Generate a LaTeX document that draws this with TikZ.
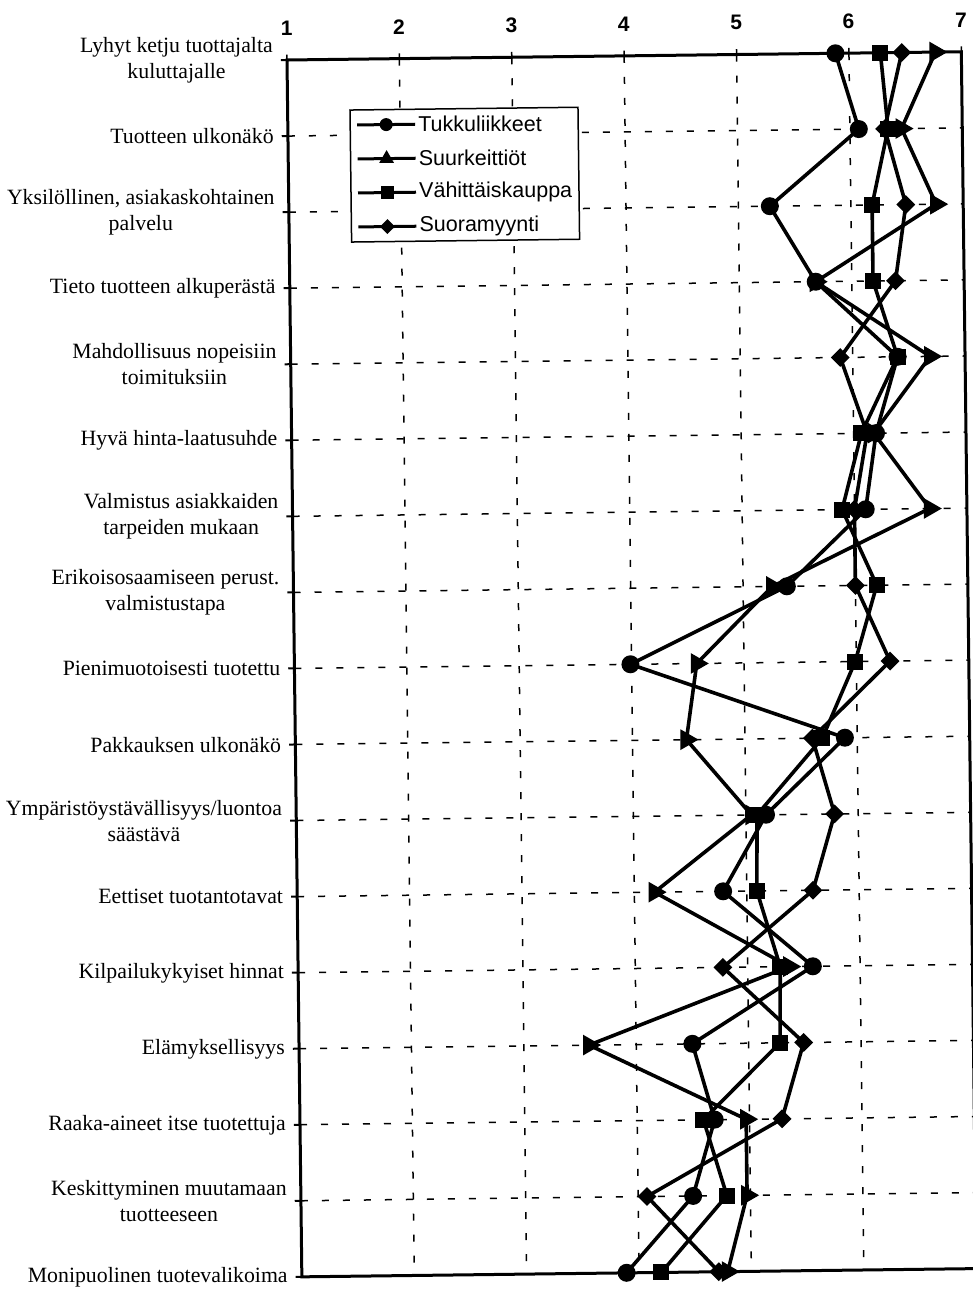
\documentclass[tikz,border=0pt]{standalone}
\usepackage{fontspec}
\setmainfont{Liberation Serif}
\setsansfont{Liberation Sans}
\usetikzlibrary{shapes.geometric}

\begin{document}
\begin{tikzpicture}[x=1pt,y=-1pt,
    cat/.style={anchor=east,align=center,inner sep=0pt,font=\fontsize{21.8}{26}\selectfont},
    num/.style={inner sep=0pt,font=\sffamily\bfseries\fontsize{21}{25}\selectfont},
    leg/.style={anchor=west,inner sep=0pt,font=\sffamily\fontsize{21.5}{25}\selectfont},
    gridline/.style={line width=1.5pt,dash pattern=on 7pt off 14pt},
    ser/.style={line width=3.6pt,line join=round},
    mcirc/.style={circle,fill=black,inner sep=0pt,minimum size=18pt},
    msq/.style={rectangle,fill=black,inner sep=0pt,minimum size=16pt},
    mdia/.style={diamond,fill=black,inner sep=0pt,minimum width=19pt,minimum height=19pt},
    mtri/.style={regular polygon,regular polygon sides=3,shape border rotate=-90,fill=black,inner sep=0pt,minimum size=24pt},
    lcirc/.style={circle,fill=black,inner sep=0pt,minimum size=13pt},
    lsq/.style={rectangle,fill=black,inner sep=0pt,minimum size=13pt},
    ldia/.style={diamond,fill=black,inner sep=0pt,minimum width=15pt,minimum height=15pt},
    ltri/.style={regular polygon,regular polygon sides=3,fill=black,inner sep=0pt,minimum size=17pt}]
    \useasboundingbox[fill=white] (0,0) rectangle (972,1290);

    % the scanned chart sits a little tilted on the page
    \begin{scope}[shift={(287,60)},rotate=0.7,x=112.4pt,y=-76.06pt,shift={(-1,-1)}]
    \foreach \i in {2,...,16} \draw[gridline] (1,\i) -- (7,\i);
    \foreach \v in {2,...,6} \draw[gridline] (\v,1) -- (\v,17);
    \draw[line width=3pt] (1,1) rectangle (7,17);
    \foreach \i in {1,...,17} \draw[line width=2pt] (1,\i) -- ++(-0.055,0);
    \foreach \v in {1,...,7} {
        \draw[line width=1.5pt] (\v,1) -- ++(0,-0.07);
        \node[num] (n\v) at (\v,0.58) {\v};
    }

    \foreach \i/\t in {1/{Lyhyt ketju tuottajalta\\kuluttajalle},
        2/{Tuotteen ulkonäkö},
        3/{Yksilöllinen, asiakaskohtainen\\palvelu},
        4/{Tieto tuotteen alkuperästä},
        5/{Mahdollisuus nopeisiin\\toimituksiin},
        6/{Hyvä hinta-laatusuhde},
        7/{Valmistus asiakkaiden\\tarpeiden mukaan},
        8/{Erikoisosaamiseen perust.\\valmistustapa},
        9/{Pienimuotoisesti tuotettu},
        10/{Pakkauksen ulkonäkö},
        11/{Ympäristöystävällisyys/luontoa\\säästävä},
        12/{Eettiset tuotantotavat},
        13/{Kilpailukykyiset hinnat},
        14/{Elämyksellisyys},
        15/{Raaka-aineet itse tuotettuja},
        16/{Keskittyminen muutamaan\\tuotteeseen},
        17/{Monipuolinen tuotevalikoima}}
        \node[cat] (c\i) at (0.875,\i) {\t};

    % one line per group, markers on top
    \foreach \s/\m/\vals in {
        tu/mcirc/{5.88,6.08,5.28,5.68,6.40,6.20,6.10,5.39,3.99,5.89,5.18,4.79,5.58,4.50,4.69,4.49,3.89},
        su/mtri/{6.77,6.46,6.76,5.68,6.69,6.18,6.67,5.26,4.58,4.48,5.05,4.18,5.37,3.58,4.97,4.97,4.79},
        va/msq/{6.28,6.34,6.19,6.19,6.40,6.07,5.89,6.19,5.99,5.69,5.10,5.09,5.29,5.28,4.59,4.79,4.20},
        so/mdia/{6.47,6.31,6.49,6.39,5.89,6.12,6.00,6.00,6.30,5.60,5.79,5.59,4.78,5.49,5.29,4.08,4.71}} {
        \foreach \v [count=\i] in \vals \coordinate (\s-\i) at (\v,\i);
        \draw[ser] (\s-1) \foreach \i in {2,...,17} {-- (\s-\i)};
        \foreach \i in {1,...,17} \node[\m] (\s-mk\i) at (\s-\i) {};
    }

    % legend
    \begin{scope}[shift={(1.555,1.668)},x=1pt,y=-1pt]
    \draw[line width=1.5pt,fill=white] (0,0) rectangle (228,132);
    \foreach \k/\m/\t in {0/lcirc/Tukkuliikkeet,1/ltri/Suurkeittiöt,2/lsq/Vähittäiskauppa,3/ldia/Suoramyynti} {
        \coordinate (la\k) at (7,15+34*\k);
        \coordinate (lb\k) at (65,15+34*\k);
        \draw[line width=3pt] (la\k) -- (lb\k);
        \node[\m] (lm\k) at (36,15+34*\k) {};
        \node[leg] (lt\k) at (68,15+34*\k) {\t};
    }
    \end{scope}
    \end{scope}
\end{tikzpicture}
\end{document}
